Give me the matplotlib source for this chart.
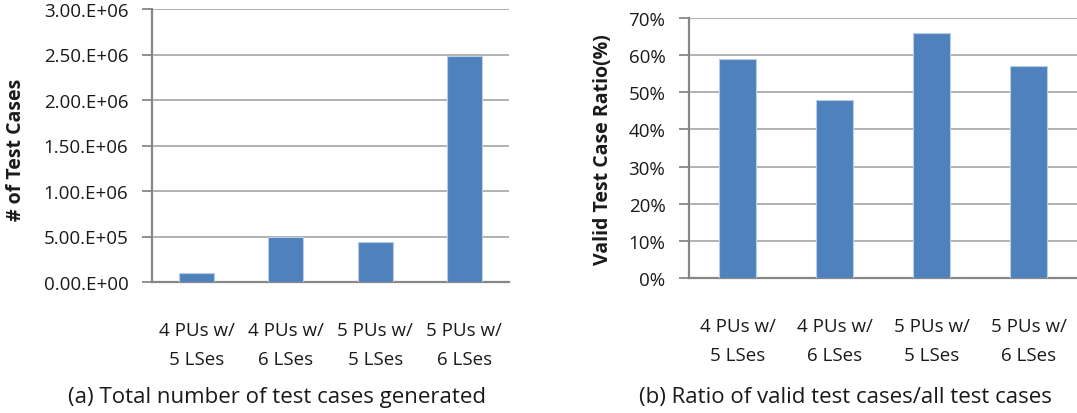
import matplotlib
matplotlib.use("Agg")
import matplotlib.pyplot as plt
import numpy as np

plt.rcParams['font.family'] = ['Open Sans', 'DejaVu Sans']

# data
categories = ["4 PUs w/\n5 LSes", "4 PUs w/\n6 LSes", "5 PUs w/\n5 LSes", "5 PUs w/\n6 LSes"]
total_cases = [1.0e5, 5.0e5, 4.4e5, 2.48e6]
valid_ratio = [59, 48, 66, 57]

left_ticks = [0, 5e5, 1e6, 1.5e6, 2e6, 2.5e6, 3e6]
left_ticklabels = ["0.00.E+00", "5.00.E+05", "1.00.E+06", "1.50.E+06",
                   "2.00.E+06", "2.50.E+06", "3.00.E+06"]
right_ticks = [0, 10, 20, 30, 40, 50, 60, 70]
right_ticklabels = ["0%", "10%", "20%", "30%", "40%", "50%", "60%", "70%"]

bar_col = "#4F81BD"
grid_col = "#ABABAB"
spine_col = "#878787"
txt = "#1a1a1a"

W, H = 1077, 414
fig = plt.figure(figsize=(W / 100, H / 100), dpi=100)
ax1 = fig.add_axes([152 / W, 1 - 283 / H, 357 / W, 273 / H])
ax2 = fig.add_axes([689 / W, 1 - 278.7 / H, 388 / W, 259.4 / H])


def style(ax, vals, ticks, labels):
    x = np.arange(len(vals))
    ax.bar(x, vals, width=0.39, color=bar_col, edgecolor="#B9CDE5",
           linewidth=0.8, zorder=3)
    ax.set_xlim(-0.5, len(vals) - 0.5)
    ax.set_ylim(ticks[0], ticks[-1])
    ax.set_yticks(ticks)
    ax.set_yticklabels(labels, fontsize=13.5, color=txt)
    ax.set_xticks(x)
    ax.set_xticklabels(categories, fontsize=13.5, linespacing=1.8, color=txt)
    ax.tick_params(axis='x', length=0, pad=28)
    ax.tick_params(axis='y', length=7, width=1.3, color=spine_col, pad=10)
    ax.grid(axis='y', color=grid_col, linewidth=1.3, zorder=0)
    for s in ['top', 'right']:
        ax.spines[s].set_visible(False)
    for s in ['left', 'bottom']:
        ax.spines[s].set_color(spine_col)
        ax.spines[s].set_linewidth(1.6)


style(ax1, total_cases, left_ticks, left_ticklabels)
style(ax2, valid_ratio, right_ticks, right_ticklabels)

fig.text(16 / W, 1 - 150 / H, "# of Test Cases", rotation=90, ha='center',
         va='center', fontsize=14, fontweight='bold', color=txt)
fig.text(603 / W, 1 - 150 / H, "Valid Test Case Ratio(%)", rotation=90,
         ha='center', va='center', fontsize=14, fontweight='bold', color=txt)

fig.text(277 / W, 1 - 398 / H, "(a) Total number of test cases generated",
         ha='center', va='center', fontsize=16, color=txt)
fig.text(845 / W, 1 - 398 / H, "(b) Ratio of valid test cases/all test cases",
         ha='center', va='center', fontsize=16, color=txt)

fig.savefig("out.png", dpi=100)
